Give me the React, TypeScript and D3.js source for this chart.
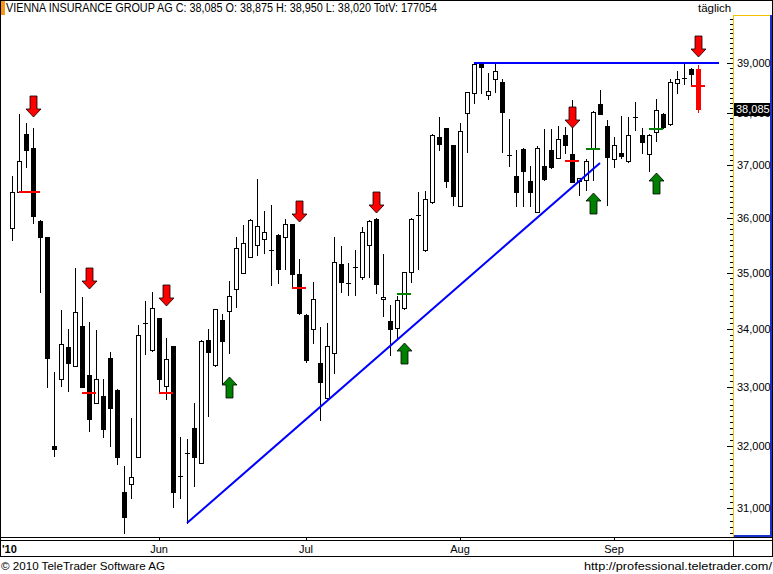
import React from "react";
import * as d3 from "d3";

const W = 773;
const H = 574;

const opens = [35820, 36490, 37600, 37330, 35950, 35650, 32010, 33130, 33680, 33360, 34050, 33200, 32730, 32840, 33490, 32950, 31260, 31390, 31830, 34100, 33630, 34190, 33010, 33700, 31520, 31890, 32310, 31730, 33810, 33370, 34160, 34320, 34710, 35000, 35290, 35500, 35610, 35420, 35690, 35650, 35890, 34980, 34250, 34000, 33410, 32810, 33580, 35160, 34820, 35100, 34920, 35500, 35990, 34530, 34140, 34020, 34370, 35010, 36060, 35410, 36300, 37540, 37710, 37380, 36230, 38010, 38400, 38980, 38360, 38680, 38620, 37190, 36790, 37310, 36700, 36120, 36980, 37290, 37140, 37580, 37210, 36700, 36720, 37330, 38180, 37750, 37120, 37230, 37080, 37930, 37580, 37210, 37640, 37990, 37790, 38600, 38700, 38880, 38875];
const highs = [36790, 37990, 37810, 37710, 35960, 35660, 33250, 34330, 34000, 35090, 34560, 34120, 33980, 33130, 33600, 32960, 31680, 32470, 34070, 34490, 34650, 34200, 33840, 33710, 32160, 32120, 32730, 33800, 34000, 34360, 34260, 34850, 35650, 35870, 35980, 36730, 36130, 36250, 35700, 35990, 35900, 35250, 34260, 34830, 34030, 34100, 35650, 35490, 35180, 35410, 35840, 35960, 36000, 35340, 34420, 34580, 35020, 36000, 36490, 36500, 37600, 37930, 37720, 37390, 37810, 38430, 38990, 38990, 38800, 38980, 38680, 37890, 37290, 37320, 36980, 37370, 37690, 37690, 37750, 37730, 38260, 36760, 37120, 38040, 38460, 37870, 37540, 37950, 37930, 38220, 37710, 37590, 38280, 38000, 38680, 38840, 39000, 38890, 38950];
const lows = [35600, 36480, 36960, 35910, 34650, 33000, 31840, 33010, 32930, 33350, 32990, 32260, 32720, 32160, 32010, 31710, 30600, 31160, 31820, 33560, 33620, 32900, 32790, 31020, 31160, 30760, 31350, 31720, 32510, 33360, 33070, 33580, 34390, 34990, 35280, 35320, 35360, 34780, 34820, 35060, 34740, 34260, 33430, 33750, 32440, 32800, 33240, 34650, 34600, 34600, 34890, 34920, 34640, 34230, 33550, 33840, 34360, 34830, 35070, 35400, 36290, 37290, 36580, 36250, 36220, 37250, 38200, 38400, 38280, 38420, 37250, 36980, 36230, 36230, 36230, 36110, 36710, 36950, 37130, 37230, 36670, 36430, 36530, 36720, 37980, 36250, 36960, 37140, 37060, 37680, 37230, 36890, 37460, 37720, 37780, 38400, 38580, 38560, 38020];
const closes = [36490, 37080, 37290, 36040, 35650, 33490, 31960, 33740, 33410, 34300, 33000, 32460, 33130, 32290, 32640, 31830, 30860, 31500, 33890, 34110, 34370, 33130, 33480, 31260, 31510, 31900, 31830, 33790, 33600, 34350, 33790, 34580, 35450, 35540, 35970, 35850, 35740, 35410, 35070, 35890, 34980, 34280, 33460, 34530, 33080, 33700, 35200, 34830, 34810, 35110, 35740, 35950, 34800, 34560, 34000, 34510, 35010, 35990, 36050, 36360, 37580, 37400, 36700, 36410, 37660, 38420, 38980, 38920, 38440, 38840, 38030, 37200, 36490, 36890, 36490, 37330, 36730, 36960, 37500, 37390, 36680, 36750, 37080, 38030, 37990, 37150, 37390, 37170, 37580, 37920, 37440, 37580, 38070, 37730, 38620, 38680, 38690, 38780, 38085];

const monthTickIdx = [21, 42, 64, 86];
const monthLabels = ["Jun", "Jul", "Aug", "Sep"];
const yearLabel = "'10";
const yMajor = [31000, 32000, 33000, 34000, 35000, 36000, 37000, 38000, 39000];
const lastClose = 38085;
const lastLabel = "38,085";

const redArrowIdx = [3, 11, 22, 41, 52, 80, 98];
const redArrowVal = [37930, 34710, 34400, 35930, 36100, 37710, 39120];
const greenArrowIdx = [31, 56, 83, 92];
const greenArrowVal = [33170, 33750, 36470, 36850];

const redLevelFrom = [1, 10, 21, 40, 79, 97];
const redLevelTo = [4, 12, 23, 42, 81, 99];
const redLevelVal = [36490, 32895, 32895, 34730, 37080, 38540];
const greenLevelFrom = [55, 82, 91];
const greenLevelTo = [57, 84, 93];
const greenLevelVal = [34620, 37310, 37700];

const supportIdx = [25, 84];
const supportVal = [30760, 37040];
const resistIdx = [66, 101];
const resistVal = [39000, 39000];

const titleText = "VIENNA INSURANCE GROUP AG C: 38,085 O: 38,875 H: 38,950 L: 38,020 TotV: 177054";

const FONT = "'Liberation Sans', Arial, sans-serif";

function fmt(v: number) {
  return d3.format(",")(v);
}

export default function App() {
  const x = d3.scaleLinear().domain([0, 98]).range([12, 698]);
  const y = d3.scaleLog().domain([31000, 39000]).range([508, 63]);
  const plotR = 733;
  const plotT = 15;
  const plotB = 537;

  const n = opens.length;
  const candles = d3.range(n).map((i) => {
    const cx = Math.round(x(i));
    const yo = Math.round(y(opens[i]));
    const yc = Math.round(y(closes[i]));
    const yh = Math.round(y(highs[i]));
    const yl = Math.round(y(lows[i]));
    const last = i === n - 1;
    const up = closes[i] >= opens[i];
    const top = Math.min(yo, yc);
    const bot = Math.max(yo, yc);
    const color = last ? "#ff0000" : "#000";
    const doji = bot - top < 1;
    return (
      <g key={i}>
        <line x1={cx + 0.5} x2={cx + 0.5} y1={yh} y2={yl + 1} stroke={color} strokeWidth={1} />
        {doji ? (
          <line x1={cx - 2} x2={cx + 3} y1={top + 0.5} y2={top + 0.5} stroke={color} strokeWidth={1} />
        ) : last ? (
          <rect x={cx - 2} y={top} width={5} height={bot - top + 1} fill="#ff0000" />
        ) : up ? (
          <rect x={cx - 1.5} y={top + 0.5} width={4} height={bot - top} fill="#fff" stroke="#000" strokeWidth={1} />
        ) : (
          <rect x={cx - 2} y={top} width={5} height={bot - top + 1} fill="#000" />
        )}
      </g>
    );
  });

  const downArrow = (cx: number, tip: number) =>
    `M${cx - 3.5},${tip - 21} L${cx + 3.5},${tip - 21} L${cx + 3.5},${tip - 8} L${cx + 7.5},${tip - 8} L${cx},${tip} L${cx - 7.5},${tip - 8} L${cx - 3.5},${tip - 8} Z`;
  const upArrow = (cx: number, tip: number) =>
    `M${cx - 3.5},${tip + 21} L${cx + 3.5},${tip + 21} L${cx + 3.5},${tip + 8} L${cx + 7.5},${tip + 8} L${cx},${tip} L${cx - 7.5},${tip + 8} L${cx - 3.5},${tip + 8} Z`;

  const minor = d3
    .range(30500, 40000, 100)
    .filter((v) => v % 1000 !== 0)
    .filter((v) => y(v) > plotT + 1 && y(v) < plotB - 1);

  const lastY = Math.round(y(lastClose));

  return (
    <svg
      width={W}
      height={H}
      style={{ position: "absolute", left: 0, top: 0, display: "block", background: "#fff" }}
      fontFamily={FONT}
    >
      <defs>
        <clipPath id="plot">
          <rect x={0} y={plotT} width={plotR} height={plotB - plotT} />
        </clipPath>
      </defs>
      <rect x={0} y={0} width={W} height={H} fill="#fff" />

      {/* title */}
      <rect x={0} y={0} width={5} height={15} fill="#f7941d" />
      <text x={6} y={12} fontSize={12} textLength={431} lengthAdjust="spacingAndGlyphs" fill="#000">
        {titleText}
      </text>
      <text x={698} y={12} fontSize={11.5} fill="#000">
        täglich
      </text>

      {/* candles */}
      <g clipPath="url(#plot)">
        {candles}
        <line
          x1={x(supportIdx[0])}
          y1={y(supportVal[0])}
          x2={x(supportIdx[1])}
          y2={y(supportVal[1])}
          stroke="#0000ff"
          strokeWidth={2}
        />
        <line
          x1={x(resistIdx[0])}
          y1={Math.round(y(resistVal[0]))}
          x2={x(resistIdx[1])}
          y2={Math.round(y(resistVal[1]))}
          stroke="#0000ff"
          strokeWidth={2}
        />
        {redLevelVal.map((v, k) => (
          <line
            key={"rl" + k}
            x1={x(redLevelFrom[k])}
            x2={x(redLevelTo[k])}
            y1={Math.round(y(v))}
            y2={Math.round(y(v))}
            stroke="#ff0000"
            strokeWidth={2}
          />
        ))}
        {greenLevelVal.map((v, k) => (
          <line
            key={"gl" + k}
            x1={x(greenLevelFrom[k])}
            x2={x(greenLevelTo[k])}
            y1={Math.round(y(v))}
            y2={Math.round(y(v))}
            stroke="#008000"
            strokeWidth={2}
          />
        ))}
        {redArrowIdx.map((i, k) => (
          <path
            key={"ra" + k}
            d={downArrow(Math.round(x(i)) + 0.5, Math.round(y(redArrowVal[k])))}
            fill="#ff0000"
            stroke="#000"
            strokeWidth={0.8}
          />
        ))}
        {greenArrowIdx.map((i, k) => (
          <path
            key={"ga" + k}
            d={upArrow(Math.round(x(i)) + 0.5, Math.round(y(greenArrowVal[k])))}
            fill="#008000"
            stroke="#000"
            strokeWidth={0.8}
          />
        ))}
      </g>

      {/* y axis */}
      <line x1={733.5} x2={733.5} y1={plotT} y2={plotB} stroke="#f5c400" strokeWidth={1} />
      <line x1={733} x2={773} y1={15.5} y2={15.5} stroke="#f5c400" strokeWidth={1} />
      <line x1={771} x2={771} y1={plotT} y2={plotB} stroke="#1a2fd0" strokeWidth={2} />
      <rect x={734} y={535} width={39} height={2} fill="#1a2fd0" />
      {minor.map((v) => (
        <line key={"mn" + v} x1={730} x2={733} y1={Math.round(y(v)) + 0.5} y2={Math.round(y(v)) + 0.5} stroke="#000" strokeWidth={1} />
      ))}
      {yMajor.map((v) => (
        <g key={"mj" + v}>
          <line x1={727} x2={733} y1={Math.round(y(v)) + 0.5} y2={Math.round(y(v)) + 0.5} stroke="#000" strokeWidth={1} />
          <text x={737} y={Math.round(y(v)) + 4} fontSize={11} fill="#000">
            {fmt(v)}
          </text>
        </g>
      ))}
      <rect x={734} y={lastY - 6} width={36} height={13} fill="#000" />
      <text x={736} y={lastY + 4} fontSize={11} fill="#fff">
        {lastLabel}
      </text>

      {/* x axis */}
      <line x1={0} x2={W} y1={537.5} y2={537.5} stroke="#000" strokeWidth={1} />
      <line x1={0} x2={W} y1={540.5} y2={540.5} stroke="#000" strokeWidth={1} />
      <line x1={0} x2={W} y1={556.5} y2={556.5} stroke="#000" strokeWidth={1} />
      <line x1={733.5} x2={733.5} y1={540} y2={557} stroke="#000" strokeWidth={1} />
      {monthTickIdx.map((i, k) => (
        <g key={"mt" + k}>
          <line x1={Math.round(x(i)) + 0.5} x2={Math.round(x(i)) + 0.5} y1={537} y2={541} stroke="#000" strokeWidth={1} />
          <text x={x(i)} y={553} fontSize={11} textAnchor="middle" fill="#000">
            {monthLabels[k]}
          </text>
        </g>
      ))}
      <text x={2} y={553} fontSize={11} fontWeight="bold" fill="#000">
        {yearLabel}
      </text>

      {/* outer frame */}
      <rect x={0.5} y={0.5} width={772} height={556} fill="none" stroke="#000" strokeWidth={1} />

      {/* footer */}
      <text x={1} y={570} fontSize={11.5} textLength={164} lengthAdjust="spacingAndGlyphs" fill="#000">
        © 2010 TeleTrader Software AG
      </text>
      <text x={584} y={570} fontSize={11} textLength={188} lengthAdjust="spacingAndGlyphs" fill="#000">
        http://professional.teletrader.com/
      </text>
    </svg>
  );
}
